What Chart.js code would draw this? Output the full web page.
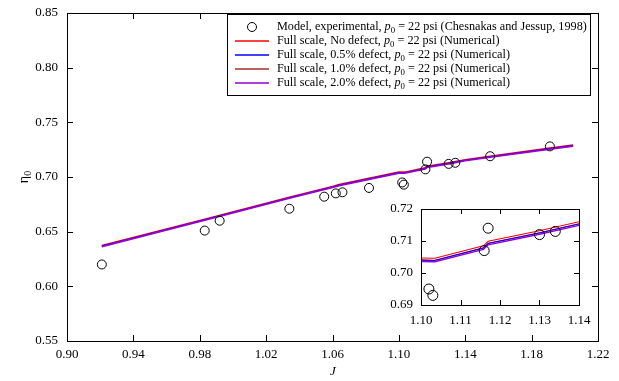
<!DOCTYPE html>
<html>
<head>
<meta charset="utf-8">
<script src="https://cdn.jsdelivr.net/npm/chart.js@4.4.1/dist/chart.umd.min.js"></script>
<style>
  body { margin: 0; background: #fff; }
  #wrap { position: relative; width: 619px; height: 381px; }
  #main { position: absolute; left: 0; top: 0; }
  #inset { position: absolute; left: 380px; top: 200px; }
</style>
</head>
<body>
<div id="wrap">
  <canvas id="main" width="619" height="381"></canvas>
  <canvas id="inset" width="220" height="135"></canvas>
</div>
<script>
// experimental points (Chesnakas and Jessup, 1998)
var expJ   = [0.921, 0.983, 0.992, 1.034, 1.055, 1.062, 1.066, 1.082, 1.102, 1.103, 1.116, 1.117, 1.130, 1.134, 1.155, 1.191];
var expEta = [0.620, 0.651, 0.660, 0.671, 0.682, 0.685, 0.686, 0.690, 0.695, 0.693, 0.707, 0.714, 0.712, 0.713, 0.719, 0.728];

// numerical, full scale
var numJ      = [0.921, 0.983, 1.034, 1.060, 1.064, 1.100, 1.1035, 1.1158, 1.117, 1.130, 1.140, 1.155, 1.191, 1.205];
var noDefect  = [0.6375, 0.6616, 0.6817, 0.6915, 0.6932, 0.7047, 0.7046, 0.7085, 0.7099, 0.7132, 0.7160, 0.7192, 0.7266, 0.7294];
var defect05  = [0.6368, 0.6609, 0.6810, 0.6908, 0.6925, 0.7040, 0.7039, 0.7078, 0.7092, 0.7125, 0.7153, 0.7185, 0.7259, 0.7287];
var defect10  = [0.6369, 0.6610, 0.6811, 0.6909, 0.6926, 0.7041, 0.7040, 0.7079, 0.7093, 0.7126, 0.7154, 0.7186, 0.7260, 0.7288];
var defect20  = [0.6364, 0.6605, 0.6806, 0.6904, 0.6921, 0.7036, 0.7035, 0.7074, 0.7088, 0.7121, 0.7149, 0.7181, 0.7255, 0.7283];

var xTicksMain = [0.90, 0.94, 0.98, 1.02, 1.06, 1.10, 1.14, 1.18, 1.22];
var yTicksMain = [0.55, 0.60, 0.65, 0.70, 0.75, 0.80, 0.85];
var xTicksInset = [1.10, 1.11, 1.12, 1.13, 1.14];
var yTicksInset = [0.69, 0.70, 0.71, 0.72];

var colors = { red: '#ff0000', blue: '#0000ff', darkred: '#a52a2a', purple: '#9400d3' };
var SERIF = '"Liberation Serif", "Times New Roman", serif';

// legend entries: text pieces (it = italic, sub = subscript)
var legendRows = [
  { kind: 'point', parts: [{t: 'Model, experimental, '}, {t: 'p', it: 1}, {t: '0', sub: 1}, {t: ' = 22 psi (Chesnakas and Jessup, 1998)'}] },
  { kind: 'line', color: colors.red, parts: [{t: 'Full scale, No defect, '}, {t: 'p', it: 1}, {t: '0', sub: 1}, {t: ' = 22 psi (Numerical)'}] },
  { kind: 'line', color: colors.blue, parts: [{t: 'Full scale, 0.5% defect, '}, {t: 'p', it: 1}, {t: '0', sub: 1}, {t: ' = 22 psi (Numerical)'}] },
  { kind: 'line', color: colors.darkred, parts: [{t: 'Full scale, 1.0% defect, '}, {t: 'p', it: 1}, {t: '0', sub: 1}, {t: ' = 22 psi (Numerical)'}] },
  { kind: 'line', color: colors.purple, parts: [{t: 'Full scale, 2.0% defect, '}, {t: 'p', it: 1}, {t: '0', sub: 1}, {t: ' = 22 psi (Numerical)'}] }
];

function pts(xs, ys) {
  return xs.map(function (v, i) { return { x: v, y: ys[i] }; });
}

function richText(ctx, x, y, parts, size) {
  parts.forEach(function (p) {
    var fs = p.sub ? size * 0.72 : size;
    ctx.font = (p.it ? 'italic ' : '') + fs + 'px ' + SERIF;
    ctx.fillText(p.t, x, y + (p.sub ? size * 0.3 : 0));
    x += ctx.measureText(p.t).width;
  });
  return x;
}

function makeDatasets(radius, lw, lwTop) {
  return [
    { label: 'exp', data: pts(expJ, expEta), showLine: false, pointRadius: radius, pointBorderWidth: 1,
      pointBorderColor: '#000', pointBackgroundColor: 'rgba(0,0,0,0)', order: 0 },
    { label: 'nd', data: pts(numJ, noDefect), showLine: true, borderColor: colors.red, borderWidth: lw, pointRadius: 0, order: 4 },
    { label: 'd05', data: pts(numJ, defect05), showLine: true, borderColor: colors.blue, borderWidth: lw, pointRadius: 0, order: 2 },
    { label: 'd10', data: pts(numJ, defect10), showLine: true, borderColor: colors.darkred, borderWidth: lw, pointRadius: 0, order: 3 },
    { label: 'd20', data: pts(numJ, defect20), showLine: true, borderColor: colors.purple, borderWidth: lwTop, pointRadius: 0, order: 1 }
  ];
}

// frame around the plot + inward ticks on all four sides
var frameTicks = {
  id: 'frameTicks',
  afterDatasetsDraw: function (chart, args, opts) {
    var ctx = chart.ctx, a = chart.chartArea, x = chart.scales.x, y = chart.scales.y;
    var len = opts.len;
    ctx.save();
    ctx.strokeStyle = '#000';
    ctx.lineWidth = 1;
    ctx.beginPath();
    x.ticks.forEach(function (t) {
      var px = Math.round(x.getPixelForValue(t.value)) + 0.5;
      ctx.moveTo(px, a.bottom); ctx.lineTo(px, a.bottom - len);
      ctx.moveTo(px, a.top); ctx.lineTo(px, a.top + len);
    });
    y.ticks.forEach(function (t) {
      var py = Math.round(y.getPixelForValue(t.value)) + 0.5;
      ctx.moveTo(a.left, py); ctx.lineTo(a.left + len, py);
      ctx.moveTo(a.right, py); ctx.lineTo(a.right - len, py);
    });
    ctx.stroke();
    ctx.lineWidth = opts.frame;
    ctx.strokeRect(Math.round(a.left) + 0.5, Math.round(a.top) + 0.5, Math.round(a.width), Math.round(a.height));
    ctx.restore();
  }
};

var mainDecor = {
  id: 'mainDecor',
  afterDraw: function (chart) {
    var ctx = chart.ctx;
    ctx.save();
    // legend box
    var bx = 227, by = 14, bw = 363, bh = 81;
    ctx.fillStyle = '#fff';
    ctx.fillRect(bx, by, bw, bh);
    ctx.strokeStyle = '#000';
    ctx.lineWidth = 1;
    ctx.strokeRect(bx + 0.5, by + 0.5, bw, bh);
    ctx.textBaseline = 'middle';
    ctx.textAlign = 'left';
    legendRows.forEach(function (r, i) {
      var cy = 27 + i * 14;
      if (r.kind === 'point') {
        ctx.strokeStyle = '#000';
        ctx.lineWidth = 1;
        ctx.beginPath();
        ctx.arc(252, cy, 4.5, 0, Math.PI * 2);
        ctx.stroke();
      } else {
        ctx.strokeStyle = r.color;
        ctx.lineWidth = 1.5;
        ctx.beginPath();
        ctx.moveTo(235, cy);
        ctx.lineTo(269, cy);
        ctx.stroke();
      }
      ctx.fillStyle = '#000';
      richText(ctx, 277, cy, r.parts, 12.2);
    });

    // axis titles
    ctx.fillStyle = '#000';
    ctx.textBaseline = 'middle';
    ctx.font = 'italic 13px ' + SERIF;
    ctx.textAlign = 'center';
    ctx.fillText('J', 333, 372);
    ctx.translate(24, 177);
    ctx.rotate(-Math.PI / 2);
    ctx.textAlign = 'left';
    ctx.font = '14px ' + SERIF;
    var w = ctx.measureText('η').width;
    ctx.font = '10px ' + SERIF;
    var w2 = ctx.measureText('0').width;
    var sx = -(w + w2) / 2;
    richText(ctx, sx, 0, [{t: 'η'}], 14);
    ctx.font = '10px ' + SERIF;
    ctx.fillText('0', sx + w, 4);
    ctx.restore();
  }
};

function axisOpts(min, max, tickVals, pad, fixed, horizontal) {
  return {
    type: 'linear',
    min: min,
    max: max,
    grid: { display: false, drawTicks: false },
    border: { display: false },
    afterBuildTicks: function (s) { s.ticks = tickVals.map(function (v) { return { value: v }; }); },
    afterFit: function (s) {
      if (horizontal) { s.height = fixed; } else { s.width = fixed; }
      s.paddingLeft = 0; s.paddingRight = 0; s.paddingTop = 0; s.paddingBottom = 0;
    },
    ticks: {
      padding: pad,
      color: '#000',
      maxRotation: 0,
      autoSkip: false,
      font: { family: SERIF, size: 13 },
      callback: function (v) { return Number(v).toFixed(2); }
    }
  };
}

new Chart(document.getElementById('main'), {
  type: 'scatter',
  data: { datasets: makeDatasets(4.5, 1.2, 1.8) },
  options: {
    responsive: false,
    animation: false,
    devicePixelRatio: 1,
    layout: { padding: { left: 0, right: 21, top: 13, bottom: 0 } },
    plugins: { legend: { display: false }, tooltip: { enabled: false }, frameTicks: { len: 6, frame: 1 } },
    scales: {
      x: axisOpts(0.90, 1.22, xTicksMain, 6, 40, true),
      y: axisOpts(0.55, 0.85, yTicksMain, 9, 67, false)
    }
  },
  plugins: [frameTicks, mainDecor]
});

new Chart(document.getElementById('inset'), {
  type: 'scatter',
  data: { datasets: makeDatasets(5, 1.1, 1.4) },
  options: {
    responsive: false,
    animation: false,
    devicePixelRatio: 1,
    layout: { padding: { left: 0, right: 21, top: 9, bottom: 0 } },
    plugins: { legend: { display: false }, tooltip: { enabled: false }, frameTicks: { len: 5, frame: 1 } },
    scales: {
      x: axisOpts(1.10, 1.14, xTicksInset, 8, 30, true),
      y: axisOpts(0.69, 0.72, yTicksInset, 8, 41, false)
    }
  },
  plugins: [frameTicks]
});
</script>
</body>
</html>
